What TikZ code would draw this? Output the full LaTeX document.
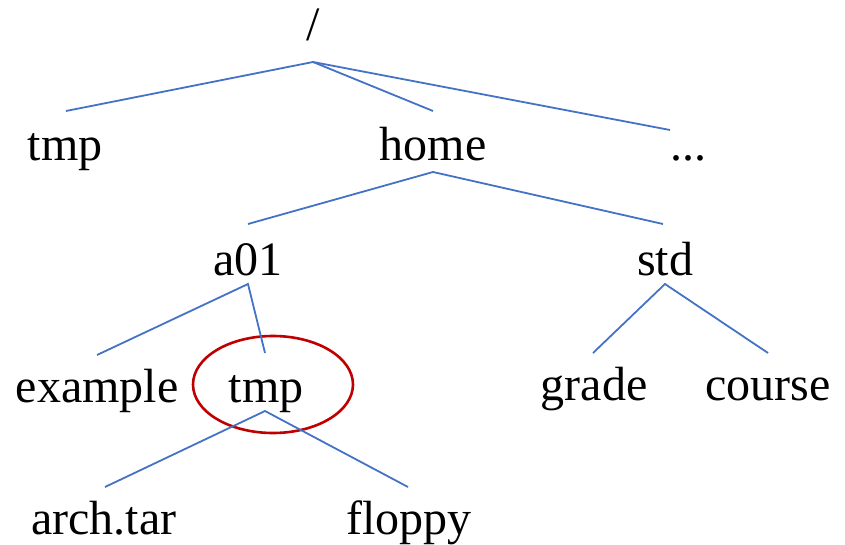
\documentclass[tikz,border=0pt]{standalone}
\usepackage{fontspec}
\setmainfont{Liberation Serif}
\usetikzlibrary{shapes.geometric}
\definecolor{edgeblue}{RGB}{68,114,196}
\definecolor{ringred}{RGB}{192,0,0}
\begin{document}
\begin{tikzpicture}[x=1pt,y=-1pt,
  lab/.style={anchor=base, inner sep=0pt, font=\fontsize{48}{58}\selectfont},
  edge/.style={draw=edgeblue, line width=1.8pt},
  ring/.style={draw=ringred, line width=2.6pt, ellipse, inner sep=0pt, minimum width=160pt, minimum height=97pt}]
\useasboundingbox (0,0) rectangle (845,545);
% labels
\node[lab] (root) at (313,41) {/};
\node[lab] (tmp1) at (65,161) {tmp};
\node[lab] (home) at (433,161) {home};
\node[lab] (more) at (688,161) {...};
\node[lab] (a01) at (248,275) {a01};
\node[lab] (std) at (665,275) {std};
\node[lab] (example) at (97,402) {example};
\node[lab] (tmp2) at (266,402) {tmp};
\node[lab] (grade) at (594,400) {grade};
\node[lab] (course) at (768,400) {course};
\node[lab] (arch) at (104,534) {arch.tar};
\node[lab] (floppy) at (409,534) {floppy};
\node[ring] (circ) at (273,384.5) {};
% connector end points
\coordinate (rootB) at (313,62);
\coordinate (tmp1T) at (66,111);
\coordinate (homeT) at (433,111);
\coordinate (moreT) at (670,130);
\coordinate (homeB) at (433,172);
\coordinate (a01T) at (248,224);
\coordinate (stdT) at (663,224);
\coordinate (a01B) at (248,284);
\coordinate (exampleT) at (97,355);
\coordinate (tmp2T) at (265,353);
\coordinate (stdB) at (665,284);
\coordinate (gradeT) at (593,353);
\coordinate (courseT) at (768,353);
\coordinate (tmp2B) at (265,411);
\coordinate (archT) at (105,487);
\coordinate (floppyT) at (408,487);
% connectors
\draw[edge] (tmp1T) -- (rootB) -- (homeT);
\draw[edge] (rootB) -- (moreT);
\draw[edge] (a01T) -- (homeB) -- (stdT);
\draw[edge] (exampleT) -- (a01B) -- (tmp2T);
\draw[edge] (gradeT) -- (stdB) -- (courseT);
\draw[edge] (archT) -- (tmp2B) -- (floppyT);
\end{tikzpicture}
\end{document}
